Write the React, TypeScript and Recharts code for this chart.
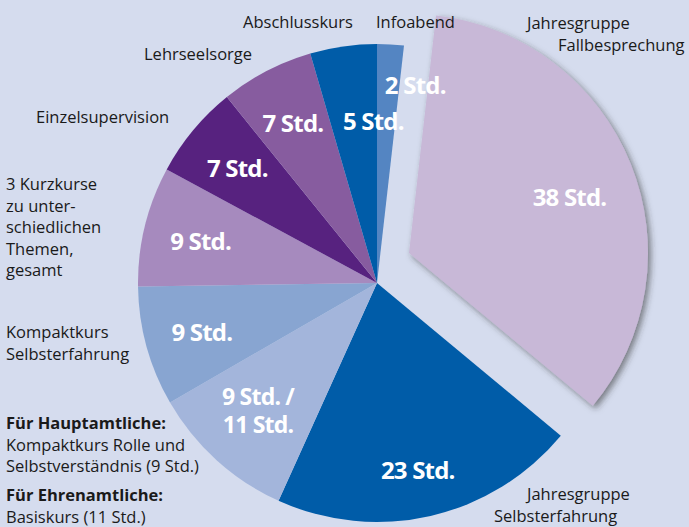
import React from "react";
import { PieChart, Pie, Cell } from "recharts";

// Stunden je Baustein, im Uhrzeigersinn ab 12 Uhr
const courses = [
  "Infoabend",
  "Jahresgruppe Fallbesprechung",
  "Jahresgruppe Selbsterfahrung",
  "Kompaktkurs Rolle / Basiskurs",
  "Kompaktkurs Selbsterfahrung",
  "3 Kurzkurse",
  "Einzelsupervision",
  "Lehrseelsorge",
  "Abschlusskurs",
];
const hours = [2, 38, 23, 11, 9, 9, 7, 7, 5];
const valueLabels = [
  "2 Std.",
  "38 Std.",
  "23 Std.",
  "9 Std. /|11 Std.",
  "9 Std.",
  "9 Std.",
  "7 Std.",
  "7 Std.",
  "5 Std.",
];
const sliceColors = [
  "#5485c2",
  "#c8b8d7",
  "#005ca8",
  "#a3b5db",
  "#88a5d1",
  "#a68abe",
  "#57227f",
  "#875c9f",
  "#005ca8",
];
const EXPLODED = 1;

const data = courses.map((name, i) => ({ name, value: hours[i], label: valueLabels[i] }));

// kleine Korrekturen, wo die Beschriftung im Original nicht mittig sitzt
const labelNudge: Record<number, [number, number]> = {
  0: [28, -18],
  1: [-8, 11],
  2: [0, 9],
  3: [3, -8],
  8: [22, 17],
};

const RAD = Math.PI / 180;
const font = "'Open Sans', 'Noto Sans', sans-serif";
const VLH = 28;

const renderValue = (props: any) => {
  const { cx, cy, midAngle, outerRadius, index } = props;
  const r = outerRadius * 0.76;
  const [dx, dy] = labelNudge[index] || [0, 0];
  const x = cx + r * Math.cos(-midAngle * RAD) + dx;
  const y = cy + r * Math.sin(-midAngle * RAD) + dy;
  const lines = String(valueLabels[index]).split("|");
  const fs = lines.length > 1 ? 23 : 24;
  return (
    <text
      key={index}
      x={x}
      y={y - ((lines.length - 1) * VLH) / 2}
      fill="#fff"
      textAnchor="middle"
      dominantBaseline="central"
      style={{ fontFamily: font, fontWeight: 700, fontSize: fs, letterSpacing: -0.8 }}
    >
      {lines.map((l, k) => (
        <tspan key={k} x={x} dy={k === 0 ? 0 : VLH}>
          {l}
        </tspan>
      ))}
    </text>
  );
};

const annotations: { x: number; y: number; lines: string[]; bold?: boolean[] }[] = [
  { x: 243, y: 22, lines: ["Abschlusskurs"] },
  { x: 376, y: 22, lines: ["Infoabend"] },
  { x: 527, y: 23, lines: ["Jahresgruppe"] },
  { x: 558, y: 44.5, lines: ["Fallbesprechung"] },
  { x: 144, y: 54, lines: ["Lehrseelsorge"] },
  { x: 36, y: 117, lines: ["Einzelsupervision"] },
  { x: 6, y: 184, lines: ["3 Kurzkurse", "zu unter-", "schiedlichen", "Themen,", "gesamt"] },
  { x: 6, y: 332, lines: ["Kompaktkurs", "Selbsterfahrung"] },
  {
    x: 6,
    y: 423,
    lines: ["Für Hauptamtliche:", "Kompaktkurs Rolle und", "Selbstverständnis (9 Std.)"],
    bold: [true, false, false],
  },
  { x: 6, y: 495, lines: ["Für Ehrenamtliche:", "Basiskurs (11 Std.)"], bold: [true, false] },
  { x: 527, y: 494, lines: ["Jahresgruppe"] },
  { x: 494, y: 515.5, lines: ["Selbsterfahrung"] },
];

const LH = 21.5;

export default function App() {
  return (
    <div
      style={{
        position: "absolute",
        left: 0,
        top: 0,
        width: 689,
        height: 527,
        background: "#d5dcee",
        overflow: "hidden",
      }}
    >
      <PieChart width={689} height={527} margin={{ top: 0, right: 0, bottom: 0, left: 0 }}>
        <defs>
          <filter id="sliceShadow" x="-20%" y="-20%" width="140%" height="140%">
            <feDropShadow dx={3} dy={3} stdDeviation={3} floodColor="#333" floodOpacity={0.55} />
          </filter>
        </defs>
        <Pie
          data={data}
          dataKey="value"
          cx={377}
          cy={283}
          outerRadius={239}
          startAngle={90}
          endAngle={-270}
          stroke="none"
          label={(p: any) => (p.index === EXPLODED ? null : renderValue(p))}
          labelLine={false}
          isAnimationActive={false}
        >
          {data.map((d, i) => (
            <Cell key={d.name} fill={i === EXPLODED ? "transparent" : sliceColors[i]} />
          ))}
        </Pie>
        <Pie
          data={data}
          dataKey="value"
          cx={409}
          cy={253}
          outerRadius={239}
          startAngle={90}
          endAngle={-270}
          stroke="none"
          label={(p: any) => (p.index === EXPLODED ? renderValue(p) : null)}
          labelLine={false}
          isAnimationActive={false}
        >
          {data.map((d, i) => (
            <Cell
              key={d.name}
              fill={i === EXPLODED ? sliceColors[i] : "transparent"}
              style={i === EXPLODED ? { filter: "url(#sliceShadow)" } : undefined}
            />
          ))}
        </Pie>
      </PieChart>
      {annotations.map((a, i) => (
        <div
          key={i}
          style={{
            position: "absolute",
            left: a.x,
            top: a.y - LH / 2,
            fontFamily: font,
            fontSize: 16.5,
            lineHeight: `${LH}px`,
            color: "#1a1a1a",
            whiteSpace: "nowrap",
          }}
        >
          {a.lines.map((l, k) => (
            <div key={k} style={{ fontWeight: a.bold && a.bold[k] ? 700 : 400 }}>
              {l}
            </div>
          ))}
        </div>
      ))}
    </div>
  );
}
